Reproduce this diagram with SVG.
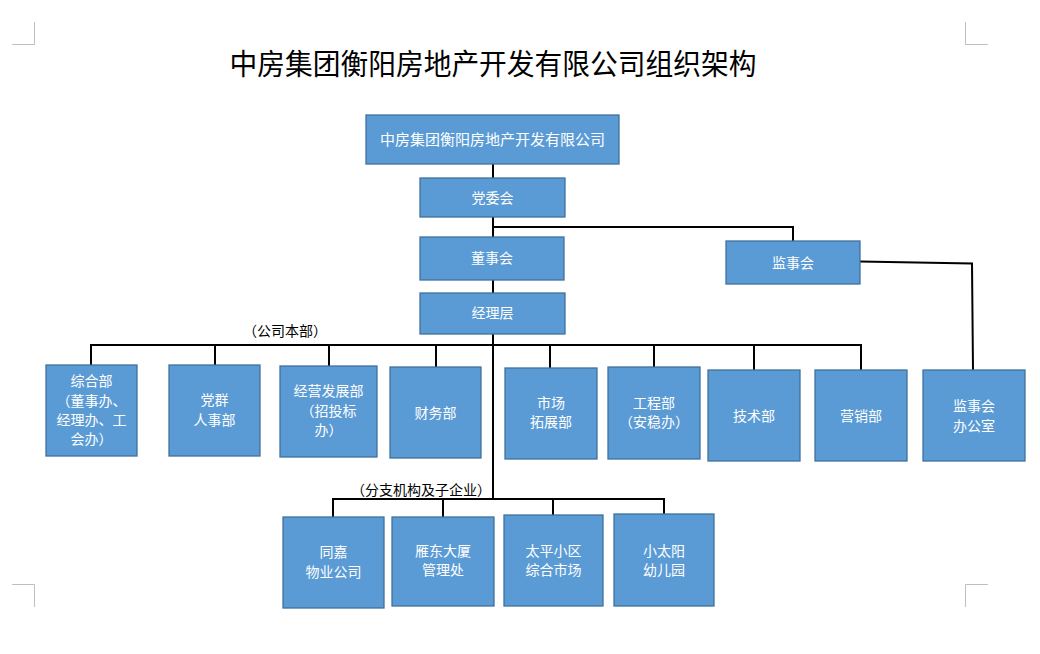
<svg xmlns="http://www.w3.org/2000/svg" width="1040" height="654" viewBox="0 0 1040 654">
<style>
text{font-variant-east-asian:full-width}
.box{fill:#5B9BD5;stroke:#41719C;stroke-width:1.3}
.t{fill:#fff;font-family:"Noto Sans CJK SC","Noto Sans",sans-serif;font-size:14px;text-anchor:middle}
.lbl{fill:#000;font-family:"Noto Sans CJK SC","Noto Sans",sans-serif;font-size:14px;text-anchor:middle}
.ln{fill:none;stroke:#000;stroke-width:2}
.cm{fill:none;stroke:#BFBFBF;stroke-width:1}
</style>
<rect width="1040" height="654" fill="#fff"/>
<g id="corners">
<path class="cm" d="M34.5,22 V44.5 H12 M965.5,22 V44.5 H988 M34.5,607 V584.5 H12 M965.5,607 V584.5 H988"/>
</g>
<text x="493" y="75" style="font-family:'Noto Sans CJK SC',sans-serif;font-size:29px;fill:#000" text-anchor="middle" textLength="527" lengthAdjust="spacingAndGlyphs">中房集团衡阳房地产开发有限公司组织架构</text>
<g id="connectors">
<path class="ln" d="M493,164 V499"/>
<path class="ln" d="M493,227 H793 V241"/>
<path class="ln" d="M91,365 V345 H861 V370"/>
<path class="ln" d="M215,345 V365 M329,345 V366 M436,345 V367 M550,345 V368 M654,345 V367 M754,345 V370"/>
<path class="ln" d="M860,261.5 L972,263.5 L973,370"/>
<path class="ln" d="M333,517 V499 H664 V514 M443,499 V517 M553,499 V515"/>
</g>
<text class="lbl" x="285" y="336">（公司本部）</text>
<text class="lbl" x="421" y="495">（分支机构及子企业）</text>
<g id="n-top"><rect class="box" x="366" y="115" width="253" height="49"/><text class="t" x="492.5" y="145" style="font-size:15px">中房集团衡阳房地产开发有限公司</text></g>
<g id="n-dwh"><rect class="box" x="420" y="178" width="145" height="39"/><text class="t" x="492.5" y="203">党委会</text></g>
<g id="n-dsh"><rect class="box" x="420" y="237" width="144" height="43"/><text class="t" x="492" y="263">董事会</text></g>
<g id="n-jsh"><rect class="box" x="726" y="241" width="134" height="43"/><text class="t" x="793" y="268">监事会</text></g>
<g id="n-jlc"><rect class="box" x="420" y="293" width="145" height="41"/><text class="t" x="492.5" y="318">经理层</text></g>
<g id="n-zhb"><rect class="box" x="46" y="365" width="91" height="91"/><text class="t" x="91.5" y="386">综合部</text><text class="t" x="91.5" y="406">（董事办、</text><text class="t" x="91.5" y="425">经理办、工</text><text class="t" x="91.5" y="444">会办）</text></g>
<g id="n-dq"><rect class="box" x="169" y="365" width="91" height="91"/><text class="t" x="214.5" y="405">党群</text><text class="t" x="214.5" y="425">人事部</text></g>
<g id="n-jy"><rect class="box" x="280" y="366" width="97" height="91"/><text class="t" x="328.5" y="396">经营发展部</text><text class="t" x="328.5" y="416">（招投标</text><text class="t" x="328.5" y="435">办）</text></g>
<g id="n-cw"><rect class="box" x="390" y="367" width="91" height="91"/><text class="t" x="435.5" y="418">财务部</text></g>
<g id="n-sc"><rect class="box" x="505" y="368" width="92" height="91"/><text class="t" x="551" y="408">市场</text><text class="t" x="551" y="427">拓展部</text></g>
<g id="n-gc"><rect class="box" x="608" y="367" width="92" height="92"/><text class="t" x="654" y="408">工程部</text><text class="t" x="654" y="427">（安稳办）</text></g>
<g id="n-js"><rect class="box" x="708" y="370" width="92" height="91"/><text class="t" x="754" y="421">技术部</text></g>
<g id="n-yx"><rect class="box" x="815" y="370" width="92" height="91"/><text class="t" x="861" y="421">营销部</text></g>
<g id="n-jsbgs"><rect class="box" x="923" y="370" width="102" height="91"/><text class="t" x="974" y="411">监事会</text><text class="t" x="974" y="431">办公室</text></g>
<g id="n-tj"><rect class="box" x="283" y="517" width="101" height="91"/><text class="t" x="333.5" y="557">同嘉</text><text class="t" x="333.5" y="577">物业公司</text></g>
<g id="n-yd"><rect class="box" x="392" y="517" width="102" height="89"/><text class="t" x="443" y="556">雁东大厦</text><text class="t" x="443" y="575">管理处</text></g>
<g id="n-tp"><rect class="box" x="504" y="515" width="99" height="91"/><text class="t" x="553.5" y="556">太平小区</text><text class="t" x="553.5" y="575">综合市场</text></g>
<g id="n-xty"><rect class="box" x="614" y="514" width="100" height="92"/><text class="t" x="664" y="556">小太阳</text><text class="t" x="664" y="575">幼儿园</text></g>
</svg>
